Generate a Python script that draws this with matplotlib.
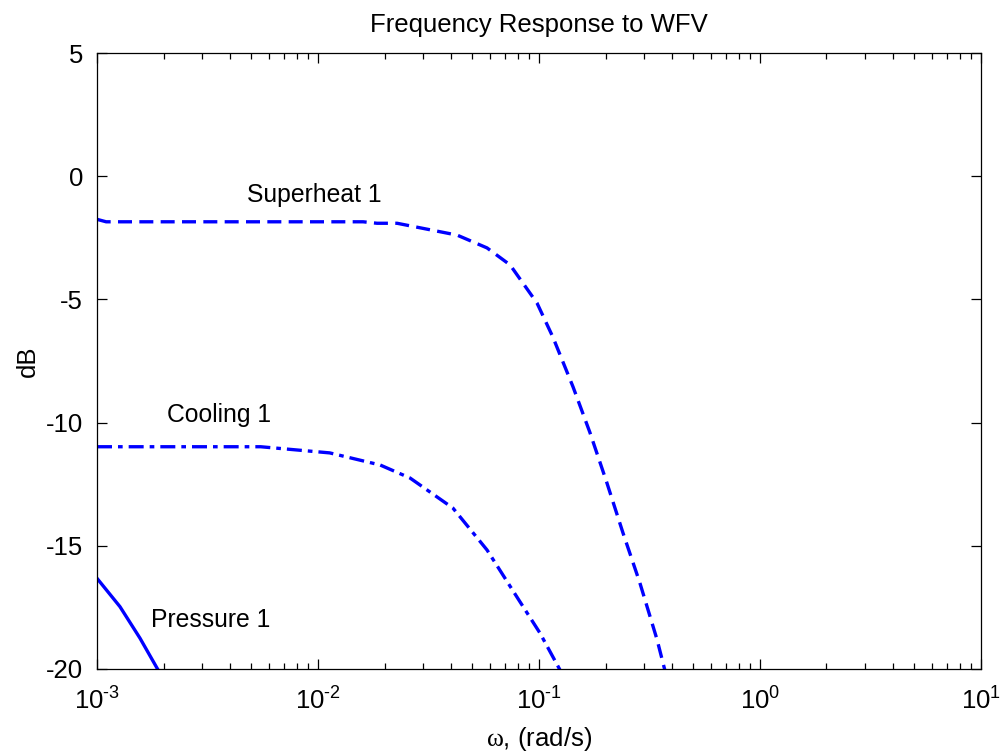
import matplotlib
matplotlib.use("Agg")
import matplotlib.pyplot as plt
from matplotlib.ticker import FuncFormatter
import numpy as np

plt.rcParams["font.family"] = ["Liberation Sans", "DejaVu Sans"]
plt.rcParams["mathtext.fontset"] = "custom"
plt.rcParams["mathtext.rm"] = "Liberation Sans"
plt.rcParams["mathtext.it"] = "Liberation Serif"
plt.rcParams["axes.unicode_minus"] = False

# frequency (rad/s) and gain (dB)
sh_w = [1e-3, 1.1e-3, 0.016, 0.0185, 0.0228, 0.0426, 0.0582, 0.074, 0.098,
        0.1156, 0.1426, 0.170, 0.203, 0.240, 0.286, 0.342, 0.371]
sh_db = [-1.75, -1.85, -1.85, -1.91, -1.91, -2.39, -2.91, -3.6, -5.15,
         -6.53, -8.55, -10.4, -12.45, -14.48, -16.5, -18.8, -20.04]

cool_w = [1e-3, 0.0055, 0.008, 0.0113, 0.0191, 0.0261, 0.0408, 0.0582,
          0.0795, 0.101, 0.1245]
cool_db = [-10.98, -10.98, -11.11, -11.23, -11.72, -12.25, -13.47, -15.17,
           -17.08, -18.54, -20.04]

pres_w = [1e-3, 0.00127, 0.001565, 0.00189]
pres_db = [-16.32, -17.47, -18.75, -20.04]

labels = ["Superheat 1", "Cooling 1", "Pressure 1"]
label_pos = [(0.0096, -0.76), (0.00356, -9.69), (0.00328, -18.01)]


def decade(v, pos):
    e = int(round(np.log10(v)))
    s = r"\text{-}%d" % -e if e < 0 else "%d" % e
    return r"$\mathdefault{10^{%s}}$" % s


fig = plt.figure(figsize=(10.02, 7.52), dpi=100)
ax = fig.add_axes([0.0968, 0.1104, 0.8822, 0.8191])

blue = "#0000ff"
ax.plot(sh_w, sh_db, color=blue, lw=2.4, dashes=(4.2, 2.2))
ax.plot(cool_w, cool_db, color=blue, lw=2.4, dashes=(4.5, 1.8, 1.4, 1.8))
ax.plot(pres_w, pres_db, color=blue, lw=2.4)

for txt, (x, y) in zip(labels, label_pos):
    ax.text(x, y, txt, ha="center", va="center", fontsize=17.8)

ax.set_xscale("log")
ax.set_xlim(1e-3, 1e1)
ax.set_ylim(-20, 5)
ax.set_yticks([-20, -15, -10, -5, 0, 5])
ax.xaxis.set_major_formatter(FuncFormatter(decade))

ax.tick_params(which="both", direction="in", top=True, right=True,
               labelsize=18.5, width=0.9)
ax.tick_params(axis="x", which="major", length=7, pad=13)
ax.tick_params(axis="y", which="major", length=7, pad=10)
ax.tick_params(which="minor", length=4)
for s in ax.spines.values():
    s.set_linewidth(0.9)

ax.set_title("Frequency Response to WFV", fontsize=18.5, pad=15)
ax.set_xlabel(r"$\omega$, (rad/s)", fontsize=18.5, labelpad=8)
ax.set_ylabel("dB", fontsize=18.5, labelpad=4)

fig.savefig("out.png", dpi=100)
